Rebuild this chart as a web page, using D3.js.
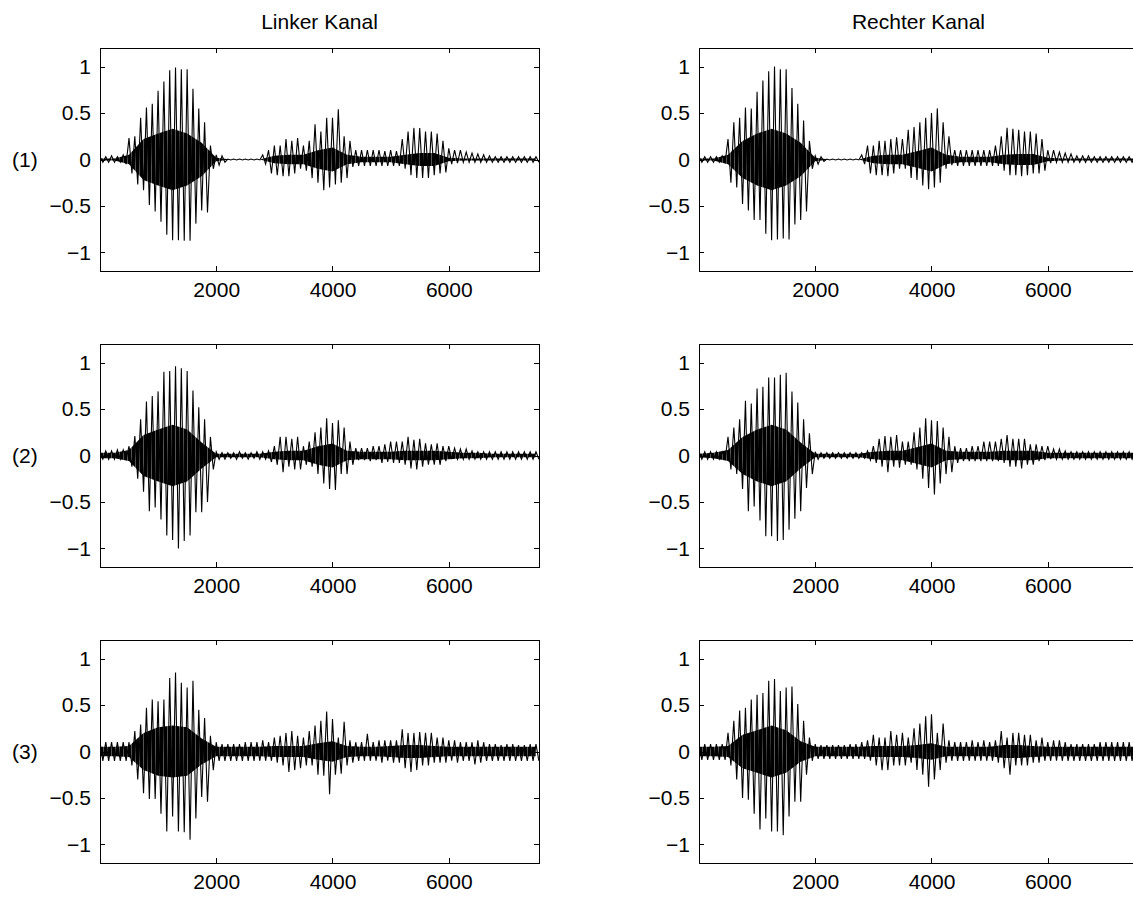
<!DOCTYPE html>
<html>
<head>
<meta charset="utf-8">
<script src="https://cdnjs.cloudflare.com/ajax/libs/d3/7.8.5/d3.min.js"></script>
<style>
  body { margin: 0; background: #fff; }
  svg text { font-family: "Liberation Sans", Arial, sans-serif; fill: #000; }
</style>
</head>
<body>
<svg id="chart" width="1133" height="899"></svg>
<script>
// sample positions of the read-off peak values, and of the dense "core" band
const samples = d3.range(0, 7501, 100);
const coreSamples = d3.range(0, 7501, 250);

const xTicks = [2000, 4000, 6000];
const yTicks = [-1, -0.5, 0, 0.5, 1];
const titles = ["Linker Kanal", "Rechter Kanal"];
const rowLabels = ["(1)", "(2)", "(3)"];

// (1) left
const hi1L = [.03,.03,.04,.03,.05,.23,.25,.45,.56,.6, .74,.84,.96,.99,.97,.97,.76,.55,.4,.15,
  .05,.04,.005,.005,.005,.005,.005,.005,.05,.1, .15,.15,.22,.2,.23,.15,.2,.38,.3,.45,
  .45,.54,.25,.2,.1,.1,.1,.1,.1,.09, .1,.09,.22,.3,.34,.34,.3,.3,.28,.2,
  .12,.1,.1,.08,.07,.06,.05,.04,.03,.03, .03,.03,.03,.03,.03,.03];
const lo1L = [-.03,-.03,-.03,-.03,-.05,-.15,-.27,-.33,-.49,-.56, -.67,-.81,-.87,-.87,-.875,-.875,-.69,-.55,-.57,-.1,
  -.06,-.03,-.005,-.005,-.005,-.005,-.005,-.005,-.05,-.15, -.17,-.18,-.18,-.15,-.1,-.12,-.2,-.25,-.33,-.3,
  -.27,-.25,-.2,-.08,-.07,-.07,-.07,-.07,-.07,-.07, -.07,-.07,-.1,-.17,-.2,-.2,-.2,-.17,-.15,-.14,
  -.05,-.04,-.03,-.03,-.03,-.03,-.03,-.03,-.03,-.03, -.03,-.03,-.03,-.03,-.03,-.03];
const core1L = [.01,.01,.05,.22,.28,.33,.28,.18,.02,0,0,0,.04,.05,.05,.1,.13,.05,.03,.03,.03,.05,.07,.07,.02,.01,.01,.01,.01,.01,.01];

// (1) right
const hi1R = [.03,.03,.03,.03,.04,.22,.4,.45,.56,.55, .73,.85,.95,1.0,.97,.97,.77,.6,.42,.2,
  .04,.03,.005,.005,.005,.005,.005,.005,.05,.15, .15,.2,.2,.22,.24,.22,.32,.35,.4,.45,
  .5,.55,.4,.25,.1,.1,.1,.1,.1,.1, .1,.15,.25,.34,.33,.32,.3,.3,.28,.22,
  .1,.1,.08,.07,.06,.04,.04,.04,.03,.03, .03,.03,.03,.03,.03,.03];
const lo1R = [-.03,-.03,-.03,-.03,-.03,-.25,-.3,-.48,-.55,-.65, -.65,-.8,-.87,-.86,-.85,-.86,-.7,-.65,-.56,-.1,
  -.05,-.02,-.005,-.005,-.005,-.005,-.005,-.005,-.05,-.15, -.17,-.17,-.18,-.15,-.1,-.1,-.2,-.22,-.28,-.32,
  -.3,-.25,-.1,-.06,-.07,-.07,-.07,-.07,-.07,-.07, -.07,-.07,-.12,-.17,-.17,-.18,-.17,-.15,-.15,-.12,
  -.04,-.03,-.03,-.03,-.03,-.03,-.03,-.03,-.03,-.03, -.03,-.03,-.03,-.03,-.03,-.03];
const core1R = [.01,.01,.05,.2,.28,.33,.28,.18,.02,0,0,0,.04,.05,.05,.09,.13,.05,.03,.03,.03,.05,.06,.06,.02,.01,.01,.01,.01,.01,.01];

// (2) left
const hi2L = [.04,.05,.05,.06,.06,.1,.21,.39,.58,.64, .69,.9,.91,.96,.94,.91,.7,.52,.39,.2,
  .04,.03,.03,.03,.04,.03,.03,.04,.04,.05, .1,.2,.2,.18,.2,.1,.15,.25,.3,.4,
  .35,.38,.3,.15,.08,.08,.08,.1,.1,.12, .15,.15,.15,.2,.17,.18,.13,.12,.13,.1,
  .1,.08,.07,.07,.05,.04,.04,.04,.04,.04, .04,.04,.04,.04,.04,.04];
const lo2L = [-.04,-.04,-.04,-.04,-.04,-.12,-.25,-.39,-.6,-.56, -.69,-.86,-.91,-1.0,-.92,-.86,-.61,-.61,-.5,-.15,
  -.04,-.04,-.03,-.04,-.03,-.04,-.03,-.04,-.04,-.07, -.1,-.18,-.12,-.15,-.15,-.1,-.12,-.2,-.3,-.36,
  -.37,-.2,-.2,-.1,-.05,-.05,-.06,-.05,-.08,-.07, -.08,-.08,-.1,-.14,-.15,-.12,-.1,-.1,-.1,-.06,
  -.04,-.04,-.04,-.04,-.04,-.04,-.04,-.04,-.04,-.04, -.04,-.04,-.04,-.04,-.04,-.04];
const core2L = [.03,.03,.06,.22,.28,.33,.28,.14,.02,.02,.02,.02,.04,.05,.05,.1,.13,.05,.04,.04,.04,.05,.05,.05,.04,.03,.03,.02,.02,.02,.02];

// (2) right
const hi2R = [.04,.04,.04,.04,.04,.2,.3,.39,.59,.56, .72,.74,.84,.84,.87,.89,.69,.57,.39,.24,
  .04,.03,.03,.03,.03,.03,.03,.03,.03,.05, .1,.18,.21,.2,.22,.15,.15,.25,.3,.4,
  .38,.37,.3,.2,.1,.08,.08,.1,.1,.15, .15,.15,.18,.22,.18,.18,.18,.12,.12,.1,
  .1,.07,.07,.05,.04,.04,.04,.04,.04,.04, .04,.04,.04,.04,.04,.04];
const lo2R = [-.04,-.04,-.04,-.04,-.04,-.15,-.2,-.36,-.6,-.55, -.7,-.87,-.87,-.92,-.91,-.8,-.68,-.6,-.35,-.2,
  -.04,-.03,-.03,-.03,-.03,-.03,-.03,-.03,-.03,-.05, -.08,-.12,-.18,-.12,-.13,-.1,-.1,-.15,-.25,-.35,
  -.42,-.3,-.2,-.18,-.08,-.06,-.06,-.06,-.06,-.06, -.06,-.06,-.08,-.12,-.12,-.14,-.1,-.1,-.06,-.05,
  -.04,-.04,-.04,-.04,-.04,-.04,-.04,-.04,-.04,-.04, -.04,-.04,-.04,-.04,-.04,-.04];
const core2R = [.02,.03,.06,.2,.28,.33,.28,.14,.02,.02,.02,.02,.04,.05,.05,.09,.13,.05,.04,.04,.04,.05,.05,.05,.03,.03,.03,.03,.03,.03,.03];

// (3) left
const hi3L = [.1,.1,.1,.1,.1,.1,.22,.29,.47,.56, .54,.56,.79,.85,.74,.69,.76,.45,.36,.17,
  .1,.08,.08,.08,.08,.1,.1,.1,.12,.1, .15,.17,.2,.22,.17,.15,.22,.28,.33,.43,
  .35,.15,.32,.12,.1,.1,.19,.1,.12,.12, .12,.12,.24,.2,.2,.21,.2,.2,.15,.15,
  .12,.12,.1,.1,.1,.12,.1,.08,.08,.07, .08,.08,.07,.07,.08,.08];
const lo3L = [-.1,-.1,-.1,-.1,-.1,-.15,-.3,-.45,-.51,-.51, -.67,-.86,-.7,-.86,-.87,-.95,-.72,-.49,-.54,-.2,
  -.1,-.1,-.1,-.1,-.1,-.1,-.1,-.1,-.1,-.1, -.12,-.15,-.22,-.2,-.18,-.15,-.15,-.25,-.26,-.46,
  -.25,-.24,-.15,-.12,-.1,-.1,-.1,-.1,-.12,-.1, -.12,-.12,-.18,-.22,-.2,-.15,-.15,-.12,-.12,-.12,
  -.1,-.12,-.1,-.1,-.14,-.12,-.1,-.1,-.1,-.1, -.1,-.1,-.1,-.1,-.1,-.1];
const core3L = [.05,.05,.06,.2,.26,.28,.26,.14,.05,.05,.05,.05,.06,.06,.06,.09,.11,.06,.05,.05,.06,.07,.07,.06,.05,.05,.05,.05,.05,.05,.05];

// (3) right
const hi3R = [.08,.08,.08,.08,.08,.2,.33,.44,.47,.56, .61,.63,.76,.78,.65,.69,.7,.51,.33,.15,
  .08,.07,.07,.07,.07,.07,.08,.08,.1,.12, .18,.15,.15,.22,.18,.2,.15,.25,.3,.38,
  .4,.2,.3,.12,.1,.1,.1,.12,.1,.12, .1,.12,.22,.15,.2,.2,.18,.18,.12,.15,
  .1,.12,.12,.1,.08,.08,.08,.08,.08,.1, .1,.1,.1,.1,.1,.1];
const lo3R = [-.09,-.09,-.09,-.09,-.09,-.15,-.3,-.5,-.52,-.67, -.84,-.72,-.86,-.86,-.9,-.7,-.54,-.54,-.25,-.1,
  -.08,-.08,-.08,-.08,-.08,-.08,-.08,-.08,-.08,-.1, -.15,-.2,-.2,-.15,-.15,-.15,-.12,-.2,-.25,-.38,
  -.3,-.2,-.12,-.1,-.1,-.1,-.1,-.1,-.1,-.1, -.1,-.12,-.18,-.25,-.15,-.15,-.15,-.12,-.12,-.1,
  -.1,-.1,-.1,-.1,-.1,-.1,-.1,-.1,-.1,-.1, -.1,-.1,-.1,-.1,-.1,-.1];
const core3R = [.05,.05,.06,.18,.23,.28,.23,.11,.05,.05,.05,.05,.06,.06,.06,.07,.09,.05,.05,.05,.05,.07,.07,.06,.05,.05,.05,.05,.05,.05,.05];

const panels = [
  {row: 0, col: 0, hi: hi1L, lo: lo1L, core: core1L},
  {row: 0, col: 1, hi: hi1R, lo: lo1R, core: core1R},
  {row: 1, col: 0, hi: hi2L, lo: lo2L, core: core2L},
  {row: 1, col: 1, hi: hi2R, lo: lo2R, core: core2R},
  {row: 2, col: 0, hi: hi3L, lo: lo3L, core: core3L},
  {row: 2, col: 1, hi: hi3R, lo: lo3R, core: core3R}
];

const svg = d3.select("#chart");
const colX = [100, 699], rowY = [48, 344, 640];
const w = 439, h = 223;
const fontSize = 21;

const x = d3.scaleLinear().domain([1, 7552]).range([0, w]);
const y = d3.scaleLinear().domain([-1.2, 1.2]).range([h, 0]);

const line = d3.line().x(d => x(d[0])).y(d => y(d[1]));
const band = d3.area().x(d => x(d[0])).y0(d => y(-d[1])).y1(d => y(d[1]));

// dense oscillation: mostly black with thin light streaks
const pat = svg.append("defs").append("pattern")
  .attr("id", "dense")
  .attr("patternUnits", "userSpaceOnUse")
  .attr("width", 4).attr("height", 8);
pat.append("rect").attr("width", 4).attr("height", 8).attr("fill", "#555");
pat.append("rect").attr("width", 3).attr("height", 8).attr("fill", "#000");

panels.forEach((p, k) => {
  const g = svg.append("g").attr("transform", `translate(${colX[p.col]},${rowY[p.row]})`);

  g.append("clipPath").attr("id", "clip" + k)
    .append("rect").attr("width", w).attr("height", h);

  const plot = g.append("g").attr("clip-path", `url(#clip${k})`);

  // dense part of the signal
  plot.append("path")
    .datum(coreSamples.map((s, i) => [s, p.core[i]]))
    .attr("d", band)
    .attr("fill", "url(#dense)");

  // peaks, alternating max / min per block
  const pts = [];
  samples.forEach((s, i) => { pts.push([s, p.hi[i]]); pts.push([s + 50, p.lo[i]]); });
  plot.append("path")
    .datum(pts)
    .attr("d", line)
    .attr("fill", "none")
    .attr("stroke", "#000")
    .attr("stroke-width", 1.1);

  // axes, ticks pointing inward like matlab
  const ax = g.append("g").attr("transform", `translate(0,${h})`)
    .call(d3.axisBottom(x).tickValues(xTicks).tickSize(-5).tickSizeOuter(0).tickPadding(11).tickFormat(d3.format("d")));
  const ay = g.append("g")
    .call(d3.axisLeft(y).tickValues(yTicks).tickSize(-5).tickSizeOuter(0).tickPadding(9).tickFormat(d3.format("")));
  const at = g.append("g")
    .call(d3.axisTop(x).tickValues(xTicks).tickSize(-5).tickSizeOuter(0).tickFormat(""));
  const ar = g.append("g").attr("transform", `translate(${w},0)`)
    .call(d3.axisRight(y).tickValues(yTicks).tickSize(-5).tickSizeOuter(0).tickFormat(""));

  [ax, ay, at, ar].forEach(a => {
    a.select(".domain").remove();
    a.selectAll("line").attr("stroke", "#000").attr("shape-rendering", "crispEdges");
    a.selectAll("text").attr("font-size", fontSize).attr("font-family", "Liberation Sans, Arial, sans-serif").attr("fill", "#000");
  });

  g.append("rect")
    .attr("width", w).attr("height", h)
    .attr("fill", "none").attr("stroke", "#000").attr("stroke-width", 1)
    .attr("shape-rendering", "crispEdges");

  if (p.col === 0) {
    g.append("text")
      .attr("x", 12 - colX[0]).attr("y", y(0))
      .attr("dy", "0.35em")
      .attr("font-size", fontSize)
      .text(rowLabels[p.row]);
  }
  if (p.row === 0) {
    g.append("text")
      .attr("x", w / 2).attr("y", -19)
      .attr("text-anchor", "middle")
      .attr("font-size", fontSize)
      .text(titles[p.col]);
  }
});
</script>
</body>
</html>
